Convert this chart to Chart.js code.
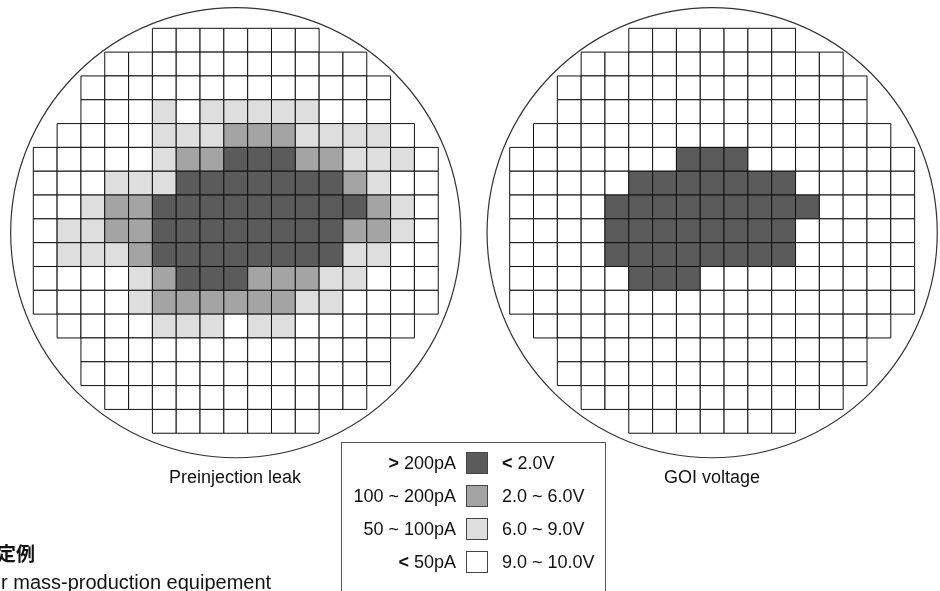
<!DOCTYPE html>
<html>
<head>
<meta charset="utf-8">
<script src="https://cdn.jsdelivr.net/npm/chart.js@4.4.1/dist/chart.umd.min.js"></script>
<style>
  body { margin: 0; background: #fff; overflow: hidden; }
  #wrap { position: relative; width: 940px; height: 591px; font-family: "Liberation Sans", Arial, sans-serif; color: #111; }
  #wrap canvas { position: absolute; left: 0; top: 0; }
  .lbl { position: absolute; font-size: 18px; line-height: 18px; white-space: nowrap; }
  #legend { position: absolute; left: 341px; top: 442px; width: 265px; height: 170px; border: 1px solid #555; box-sizing: border-box; }
  .lrow { position: absolute; left: 0; width: 265px; height: 22px; }
  .lrow .l { position: absolute; right: 151px; top: 1px; font-size: 18px; line-height: 20px; white-space: nowrap; }
  .lrow .r { position: absolute; left: 160px; top: 1px; font-size: 18px; line-height: 20px; white-space: nowrap; }
  .lrow .sw { position: absolute; left: 124px; top: 0; width: 22px; height: 22px; border: 1px solid #444; box-sizing: border-box; }
  .lrow b { font-weight: bold; }
</style>
</head>
<body>
<div id="wrap">
  <canvas id="wafer"></canvas>
  <div class="lbl" style="left:235px; top:468px; transform:translateX(-50%);">Preinjection leak</div>
  <div class="lbl" style="left:712px; top:468px; transform:translateX(-50%);">GOI voltage</div>
  <div class="lbl" style="left:-3px; top:544px; font-weight:bold; font-size:19px; font-family:'Noto Sans CJK JP', sans-serif;">定例</div>
  <div class="lbl" style="left:1px; top:573px; font-size:20px;">r mass-production equipement</div>
  <div id="legend"></div>
</div>
<script>
// level 0 = white, 1 = light, 2 = mid, 3 = dark; '.' = no die
const leakMap = [
  '.....0000000.....',
  '...00000000000...',
  '..0000000000000..',
  '..0001011111000..',
  '.000011122211110.',
  '00000122333221110',
  '00011133333332100',
  '00122333333333210',
  '01122333333332210',
  '01112333333331100',
  '00001233322211000',
  '00001222222110000',
  '.000011101100000.',
  '..0000000000000..',
  '..0000000000000..',
  '...00000000000...',
  '.....0000000.....'
];
const goiMap = [
  '.....0000000.....',
  '...00000000000...',
  '..0000000000000..',
  '..0000000000000..',
  '.000000000000000.',
  '00000003330000000',
  '00000333333300000',
  '00003333333330000',
  '00003333333300000',
  '00003333333300000',
  '00000333000000000',
  '00000000000000000',
  '.000000000000000.',
  '..0000000000000..',
  '..0000000000000..',
  '...00000000000...',
  '.....0000000.....'
];
const waferOffsets = [0, 20];   // column offset of each wafer grid
const levelColors = ['#ffffff', '#dedede', '#a4a4a4', '#5b5b5b'];
const leakLabels = ['<b>&lt;</b> 50pA', '50 ~ 100pA', '100 ~ 200pA', '<b>&gt;</b> 200pA'];
const goiLabels = ['9.0 ~ 10.0V', '6.0 ~ 9.0V', '2.0 ~ 6.0V', '<b>&lt;</b> 2.0V'];

function cells(map, off) {
  const pts = [];
  map.forEach((row, r) => {
    for (let c = 0; c < row.length; c++) {
      if (row[c] === '.') continue;
      pts.push({ x: off + c + 0.5, y: r + 0.5, level: +row[c] });
    }
  });
  return pts;
}

function cellPx(chart) {
  const x = chart.scales.x;
  return Math.abs(x.getPixelForValue(1) - x.getPixelForValue(0));
}

const waferOutline = {
  id: 'waferOutline',
  beforeDatasetsDraw(chart) {
    const { ctx, scales: { x, y } } = chart;
    const r = 9.45 * cellPx(chart);
    ctx.save();
    ctx.strokeStyle = '#333';
    ctx.lineWidth = 1.2;
    waferOffsets.forEach(off => {
      ctx.beginPath();
      ctx.arc(x.getPixelForValue(off + 8.5), y.getPixelForValue(8.58), r, 0, Math.PI * 2);
      ctx.stroke();
    });
    ctx.restore();
  }
};

const dieStyle = {
  pointStyle: 'rect',
  radius: (c) => cellPx(c.chart) / Math.SQRT2,
  hoverRadius: (c) => cellPx(c.chart) / Math.SQRT2,
  backgroundColor: (c) => levelColors[c.raw ? c.raw.level : 0],
  borderColor: '#111',
  borderWidth: 1,
  hoverBorderWidth: 1
};

new Chart(document.getElementById('wafer'), {
  type: 'scatter',
  data: {
    datasets: [
      Object.assign({ label: 'Preinjection leak', data: cells(leakMap, waferOffsets[0]) }, dieStyle),
      Object.assign({ label: 'GOI voltage', data: cells(goiMap, waferOffsets[1]) }, dieStyle)
    ]
  },
  options: {
    responsive: true,
    maintainAspectRatio: false,
    animation: false,
    layout: { padding: 0 },
    plugins: { legend: { display: false }, tooltip: { enabled: false } },
    events: [],
    scales: {
      x: { type: 'linear', display: false, min: -1.398, max: 38.065 },
      y: { type: 'linear', display: false, reverse: true, min: -1.188, max: 23.623 }
    }
  },
  plugins: [waferOutline]
});

// legend box, dark first
const legend = document.getElementById('legend');
const rowTops = [9, 42, 75, 108];
for (let i = 0; i < 4; i++) {
  const lv = 3 - i;
  const row = document.createElement('div');
  row.className = 'lrow';
  row.style.top = rowTops[i] + 'px';
  const l = document.createElement('div');
  l.className = 'l';
  l.innerHTML = leakLabels[lv];
  const sw = document.createElement('div');
  sw.className = 'sw';
  sw.style.background = levelColors[lv];
  const r = document.createElement('div');
  r.className = 'r';
  r.innerHTML = goiLabels[lv];
  row.append(l, sw, r);
  legend.appendChild(row);
}
</script>
</body>
</html>
